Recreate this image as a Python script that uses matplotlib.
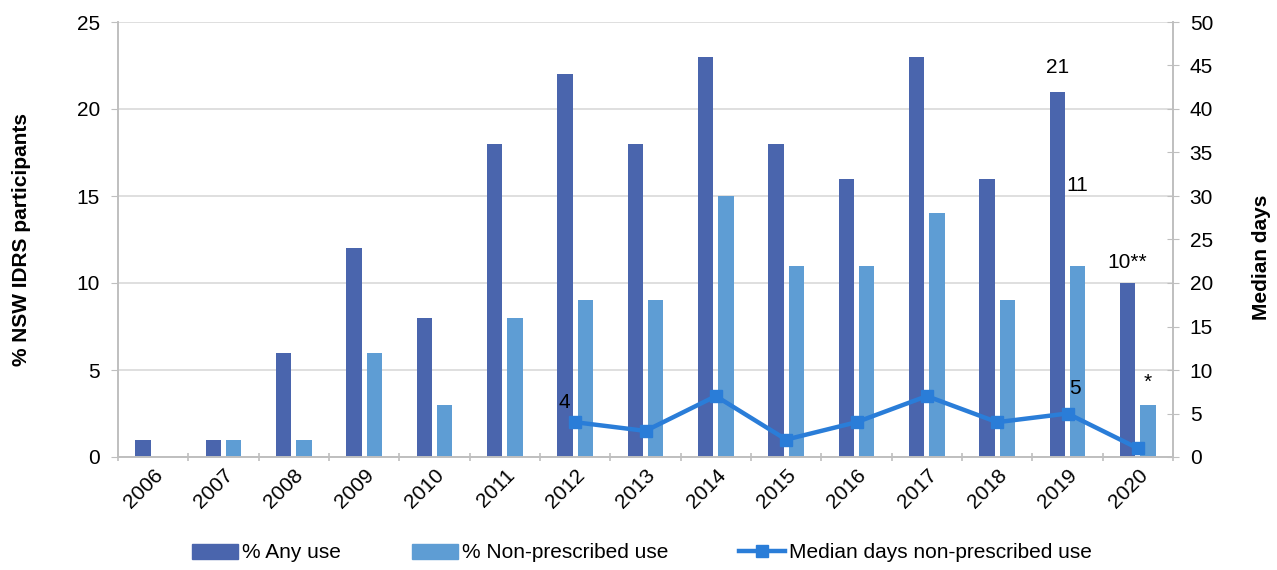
import matplotlib
matplotlib.use("Agg")
import matplotlib.pyplot as plt
import numpy as np
from matplotlib.lines import Line2D
from matplotlib.patches import Patch

plt.rcParams['font.family'] = ['Liberation Sans', 'DejaVu Sans']

years = ['2006', '2007', '2008', '2009', '2010', '2011', '2012', '2013', '2014',
         '2015', '2016', '2017', '2018', '2019', '2020']
any_use = [1, 1, 6, 12, 8, 18, 22, 18, 23, 18, 16, 23, 16, 21, 10]
non_prescribed = [0, 1, 1, 6, 3, 8, 9, 9, 15, 11, 11, 14, 9, 11, 3]
median_years = ['2012', '2013', '2014', '2015', '2016', '2017', '2018', '2019', '2020']
median_days = [4, 3, 7, 2, 4, 7, 4, 5, 1]

c_any = '#4A65AD'
c_non = '#5E9DD4'
c_line = '#2A7DD8'
grid_c = '#D9D9D9'
axis_c = '#BFBFBF'

fig = plt.figure(figsize=(12.77, 5.70), dpi=100)
ax = fig.add_axes([118/1277, 1-457/570, (1173-118)/1277, (457-22)/570])
ax2 = ax.twinx()

x = np.arange(len(years))
bw = 0.22
off = 0.145
ax.bar(x - off, any_use, width=bw, color=c_any, zorder=2)
ax.bar(x + off, non_prescribed, width=bw, color=c_non, zorder=2)

mx = [years.index(y) for y in median_years]
ax2.plot(mx, median_days, color=c_line, lw=3.2, marker='s', ms=9, zorder=3)

ax.set_xlim(-0.5, len(years) - 0.5)
ax.set_ylim(0, 25)
ax2.set_ylim(0, 50)
ax.set_yticks(range(0, 26, 5))
ax2.set_yticks(range(0, 51, 5))

fs_tick = 15
ax.set_xticks(x)
ax.set_xticklabels(years, rotation=45, ha='right', rotation_mode='anchor', fontsize=fs_tick)
ax.set_xticks(np.arange(-0.5, len(years), 1), minor=True)
ax.tick_params(axis='x', which='major', length=0, pad=6)
ax.tick_params(axis='x', which='minor', length=6, color=axis_c, width=1.2, direction='inout')
ax.tick_params(axis='y', labelsize=fs_tick, length=5, color=axis_c, direction='out', pad=8)
ax2.tick_params(axis='y', labelsize=fs_tick, length=8, color=axis_c, direction='inout', pad=8)

ax.grid(axis='y', color=grid_c, lw=1.2, zorder=0)
ax.set_axisbelow(True)
for a in (ax, ax2):
    a.spines['top'].set_visible(False)
    for s in ('left', 'right', 'bottom'):
        a.spines[s].set_color(axis_c)
        a.spines[s].set_linewidth(1.2)

ax.set_ylabel('% NSW IDRS participants', fontsize=15, fontweight='bold', labelpad=33)
ax2.set_ylabel('Median days', fontsize=15, fontweight='bold', labelpad=27)
ax2.yaxis.set_label_coords(1.0 + (1252 - 1173) / 1055, 0.46)

# annotations
fs = 15
i19 = years.index('2019'); i20 = years.index('2020'); i12 = years.index('2012')
ax.text(i19 - off, any_use[i19] + 1.36, '21', ha='center', va='center', fontsize=fs)
ax.text(i19 + off, non_prescribed[i19] + 4.6, '11', ha='center', va='center', fontsize=fs)
ax.text(i20 - off, any_use[i20] + 1.2, '10**', ha='center', va='center', fontsize=fs)
ax.text(i20 + off, non_prescribed[i20] + 1.3, '*', ha='center', va='center', fontsize=fs)
ax2.text(i12 - 0.15, median_days[median_years.index('2012')] + 2.3, '4', ha='center', va='center', fontsize=fs)
ax2.text(i19 + 0.1, median_days[median_years.index('2019')] + 2.9, '5', ha='center', va='center', fontsize=fs)

handles = [Patch(color=c_any), Patch(color=c_non),
           Line2D([0], [0], color=c_line, lw=3.2, marker='s', ms=9)]
labels = ['% Any use', '% Non-prescribed use', 'Median days non-prescribed use']
fig.legend(handles, labels, loc='center', bbox_to_anchor=(0.503, 1-553/570), ncol=3,
           frameon=False, fontsize=15, handlelength=2.2, handletextpad=0.2,
           columnspacing=3.4)

fig.savefig('out.png', dpi=100)
